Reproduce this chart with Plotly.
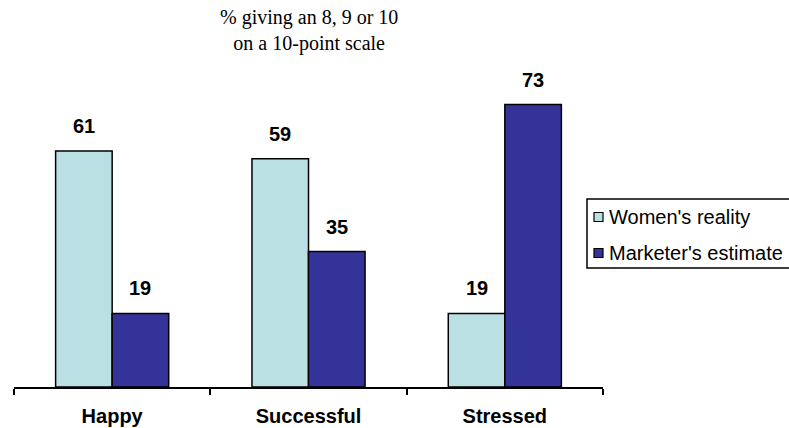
import plotly.graph_objects as go

categories = ["Happy", "Successful", "Stressed"]
womens_reality = [61, 59, 19]
marketers_estimate = [19, 35, 73]
series_names = ["Women's reality", "Marketer's estimate"]
title_lines = ["% giving an 8, 9 or 10", "on a 10-point scale"]

W, H = 789, 428
ML, MR, MT, MB = 14, 186, 60, 41
PW, PH = W - ML - MR, H - MT - MB
BARGAP = 0.424
LIGHT = "#BBE0E3"
DARK = "#333399"

def px_x(px):
    return (px - ML) / PW

def px_y(py):
    return (H - MB - py) / PH

fig = go.Figure()
fig.add_bar(x=categories, y=womens_reality, name=series_names[0],
            marker=dict(color=LIGHT, line=dict(color="black", width=1.5)))
fig.add_bar(x=categories, y=marketers_estimate, name=series_names[1],
            marker=dict(color=DARK, line=dict(color="black", width=1.5)))

half_bar = PW / len(categories) * (1 - BARGAP) / 4
annotations = []
for vals, shift in ((womens_reality, -half_bar), (marketers_estimate, half_bar)):
    for c, v in zip(categories, vals):
        annotations.append(dict(x=c, y=v, xref="x", yref="y", text=str(v),
                                showarrow=False, yanchor="bottom", xshift=shift, yshift=12,
                                font=dict(family="Liberation Sans, Arial", size=20, color="black",
                                          weight="bold")))

annotations.append(dict(x=0.5, y=px_y(30), xref="paper", yref="paper",
                        text="<br>".join(title_lines), showarrow=False, yanchor="middle",
                        font=dict(family="Liberation Serif, Times New Roman", size=20, color="black")))

shapes = [dict(type="rect", xref="paper", yref="paper", x0=px_x(587), x1=px_x(820),
               y0=px_y(268), y1=px_y(199), line=dict(color="black", width=1.5),
               fillcolor="white", layer="below")]
for name, col, cy in ((series_names[0], LIGHT, 217), (series_names[1], DARK, 253)):
    shapes.append(dict(type="rect", xref="paper", yref="paper", x0=px_x(594), x1=px_x(603),
                       y0=px_y(cy + 4.5), y1=px_y(cy - 4.5), line=dict(color="black", width=1.2),
                       fillcolor=col))
    annotations.append(dict(x=px_x(607), y=px_y(cy), xref="paper", yref="paper", text=name,
                            showarrow=False, xanchor="left", yanchor="middle",
                            font=dict(family="Liberation Sans, Arial", size=20, color="black")))

fig.update_layout(
    width=W, height=H, margin=dict(l=ML, r=MR, t=MT, b=MB, autoexpand=False),
    paper_bgcolor="white", plot_bgcolor="white",
    barmode="group", bargap=BARGAP, bargroupgap=0,
    showlegend=False, annotations=annotations, shapes=shapes,
    xaxis=dict(type="category", showline=True, linecolor="black", linewidth=1.5,
               ticks="outside", tickson="boundaries", ticklen=6, tickcolor="black", tickwidth=1.5,
               showgrid=False, ticklabelstandoff=10, automargin=False,
               tickfont=dict(family="Liberation Sans, Arial", size=20, color="black", weight="bold")),
    yaxis=dict(range=[0, 84.5], visible=False, showgrid=False, zeroline=False, automargin=False),
)

fig.write_html("out.html")
